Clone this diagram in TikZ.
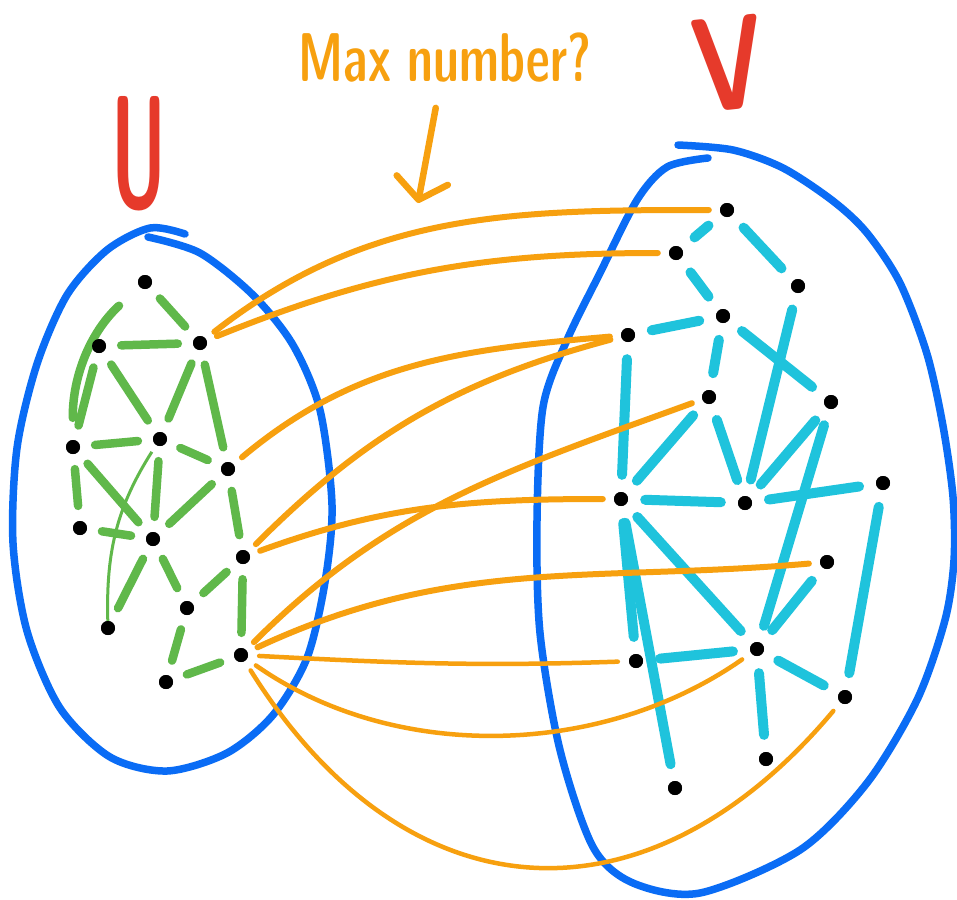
\documentclass[tikz,border=0pt]{standalone}
\usepackage{graphicx}
\usepackage{tikz}
\usetikzlibrary{arrows.meta}
\definecolor{setBlue}{HTML}{0A6CF5}
\definecolor{edgeOrange}{HTML}{F7A00F}
\definecolor{uGreen}{HTML}{60B84A}
\definecolor{vCyan}{HTML}{1FC3DC}
\definecolor{labelRed}{HTML}{E63A2B}

\begin{document}
\begin{tikzpicture}[x=1pt,y=1pt,
  font=\sffamily,
  dot/.style={circle,fill=black,inner sep=0pt,minimum size=14pt},
  setline/.style={setBlue,line width=7.5pt,line cap=round,line join=round},
  gedge/.style={uGreen,line width=8.5pt,line cap=round,shorten <=15pt,shorten >=15pt},
  cedge/.style={vCyan,line width=10pt,line cap=round,shorten <=17pt,shorten >=17pt},
  match/.style={edgeOrange,line width=6pt,line cap=round,shorten <=11pt,shorten >=11pt},
  setlabel/.style={labelRed,inner sep=0pt}
]
\fill[white] (0,0) rectangle (957,-899);
\useasboundingbox (0,0) rectangle (957,-899);

% the two sets
\draw[setline] plot[smooth] coordinates {(148,-237) (200,-253) (253,-295) (293,-345)
  (320,-410) (332,-505) (325,-582) (307,-658) (273,-715) (227,-753) (167,-771)
  (110,-757) (60,-708) (27,-631) (13,-543) (17,-448) (37,-364) (67,-295)
  (107,-250) (150,-228) (185,-234)};
\draw[setline] plot[smooth] coordinates {(678,-145) (733,-150) (783,-168) (833,-201)
  (867,-233) (900,-283) (927,-354) (943,-426) (953,-497) (954,-560) (945,-620)
  (917,-700) (867,-783) (800,-850) (700,-893) (633,-883) (593,-847) (560,-750)
  (540,-633) (537,-520) (543,-407) (567,-340) (600,-273) (637,-200) (667,-167)
  (708,-158)};

\node[setlabel,font=\sffamily\bfseries\fontsize{160}{160}\selectfont] (ulab) at (139,-154) {\scalebox{0.45}[1]{U}};
\node[setlabel,font=\sffamily\bfseries\fontsize{134}{134}\selectfont,rotate=6] (vlab) at (729,-64) {\scalebox{0.72}[1]{V}};

% vertices of U
\node[dot] (u1) at (145,-282) {};
\node[dot] (u2) at (99,-346) {};
\node[dot] (u3) at (200,-343) {};
\node[dot] (u4) at (73,-447) {};
\node[dot] (u5) at (160,-439) {};
\node[dot] (u6) at (228,-469) {};
\node[dot] (u7) at (80,-528) {};
\node[dot] (u8) at (153,-539) {};
\node[dot] (u9) at (243,-557) {};
\node[dot] (u10) at (187,-608) {};
\node[dot] (u11) at (108,-628) {};
\node[dot] (u12) at (241,-655) {};
\node[dot] (u13) at (166,-682) {};

% vertices of V
\node[dot] (v1) at (727,-210) {};
\node[dot] (v2) at (676,-253) {};
\node[dot] (v3) at (798,-286) {};
\node[dot] (v4) at (723,-316) {};
\node[dot] (v5) at (628,-335) {};
\node[dot] (v6) at (709,-397) {};
\node[dot] (v7) at (831,-402) {};
\node[dot] (v8) at (621,-499) {};
\node[dot] (v9) at (745,-503) {};
\node[dot] (v10) at (883,-483) {};
\node[dot] (v11) at (827,-562) {};
\node[dot] (v12) at (757,-649) {};
\node[dot] (v13) at (636,-661) {};
\node[dot] (v14) at (845,-697) {};
\node[dot] (v15) at (766,-759) {};
\node[dot] (v16) at (675,-788) {};

% edges inside U
\foreach \a/\b in {u1/u3,u2/u3,u2/u4,u2/u5,u3/u5,u3/u6,u4/u5,u5/u6,u4/u7,u4/u8,
  u5/u8,u6/u8,u6/u9,u7/u8,u8/u11,u8/u10,u9/u10,u9/u12,u10/u13,u13/u12}
  \draw[gedge] (\a) -- (\b);
\draw[gedge,shorten <=22pt,shorten >=28pt] (u4) to[bend left=24] (u1);
\draw[uGreen,line width=3pt,shorten <=8pt] (u5) to[bend right=17] (u11);

% edges inside V
\foreach \a/\b in {v1/v2,v1/v3,v2/v4,v5/v4,v4/v6,v4/v7,v3/v9,v6/v9,v5/v8,v6/v8,
  v7/v9,v7/v12,v8/v9,v9/v10,v10/v14,v8/v13,v8/v16,v8/v12,v11/v12,v13/v12,
  v12/v15,v12/v14}
  \draw[cedge] (\a) -- (\b);

% matching candidates between U and V
\draw[match] (u3) to[out=38,in=180] (v1);
\draw[match] (u3) to[out=22,in=180] (v2);
\draw[match] (u6) to[out=40,in=185] (v5);
\draw[match] (u9) to[out=45,in=195] (v5);
\draw[match] (u9) to[out=20,in=180] (v8);
\draw[match] (u12) to[out=45,in=200] (v6);
\draw[match] (u12) to[out=25,in=185] (v11);
\draw[match,line width=4.5pt] (u12) to[out=-3,in=182] (v13);
\draw[match,line width=4.5pt] (u12) to[out=-35,in=215,looseness=0.92] (v12);
\draw[match,line width=4.5pt] (u12) to[out=-58,in=230,looseness=1.3] (v14);

% redraw dots on top
\foreach \n in {u1,u2,u3,u4,u5,u6,u7,u8,u9,u10,u11,u12,u13,
  v1,v2,v3,v4,v5,v6,v7,v8,v9,v10,v11,v12,v13,v14,v15,v16}
  \fill (\n) circle (7pt);

% question
\node[text=edgeOrange,font=\sffamily\bfseries\fontsize{46}{46}\selectfont] (mx) at (445,-58)
  {\scalebox{1}[1.5]{Max number?}};
\coordinate (tip) at (418,-203);
\draw[edgeOrange,line width=6.5pt,line cap=round,shorten <=22pt,
  -{Straight Barb[length=20pt,width=52pt,round]}] (mx) -- (tip);
\end{tikzpicture}
\end{document}
